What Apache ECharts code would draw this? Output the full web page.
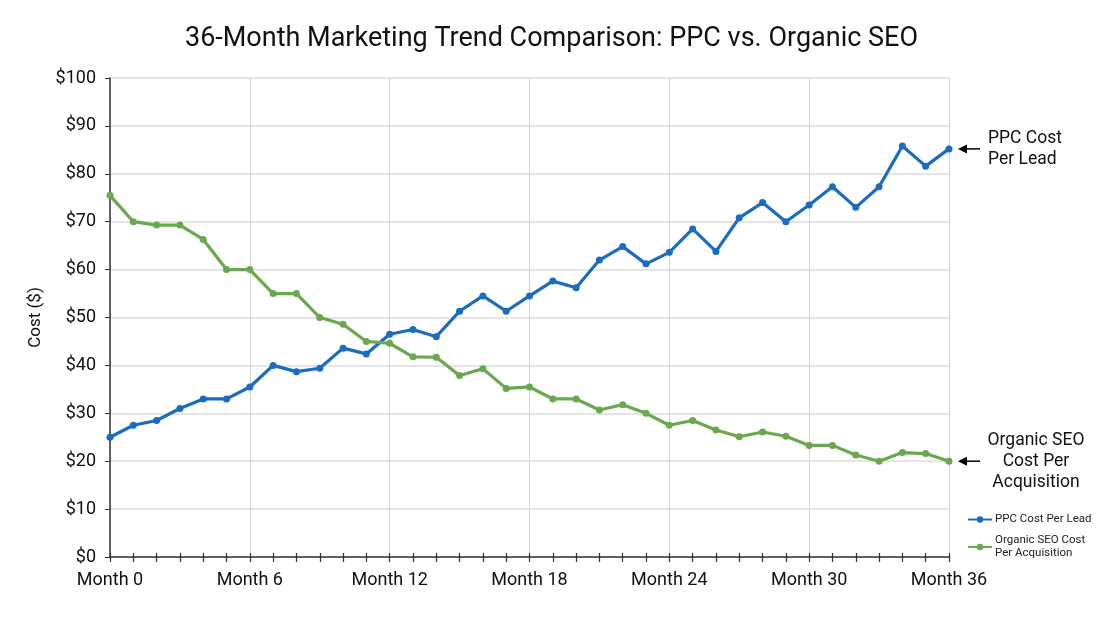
<!DOCTYPE html>
<html>
<head>
<meta charset="utf-8">
<script src="https://cdn.jsdelivr.net/npm/echarts@6/dist/echarts.min.js"></script>
<style>
  html, body { margin: 0; padding: 0; background: #fff; }
  #chart { width: 1103px; height: 620px; }
</style>
</head>
<body>
<div id="chart"></div>
<script>
const months = [];
for (let i = 0; i <= 36; i++) months.push('Month ' + i);

const ppcCost = [25, 27.5, 28.5, 31, 33, 33, 35.5, 40, 38.7, 39.4, 43.6, 42.4, 46.5, 47.5, 46,
  51.3, 54.5, 51.3, 54.5, 57.6, 56.2, 62, 64.8, 61.2, 63.6, 68.5, 63.8, 70.8, 74, 70,
  73.5, 77.3, 73, 77.3, 85.8, 81.6, 85.2];
const seoCost = [75.5, 70, 69.3, 69.3, 66.3, 60, 60, 55, 55, 50, 48.6, 45, 44.6, 41.8, 41.7,
  37.9, 39.3, 35.2, 35.5, 33, 33, 30.7, 31.8, 30, 27.5, 28.5, 26.5, 25.1, 26.1, 25.2,
  23.3, 23.3, 21.3, 20, 21.8, 21.6, 20];

const font = 'Roboto, "Noto Sans", sans-serif';
const blue = '#1a6cc0';
const green = '#6aa84f';
const ink = '#111';

const chart = echarts.init(document.getElementById('chart'));
chart.setOption({
  animation: false,
  textStyle: { fontFamily: font },
  title: {
    text: '36-Month Marketing Trend Comparison: PPC vs. Organic SEO',
    left: 'center', top: 21,
    textStyle: { fontFamily: font, fontSize: 27, fontWeight: 'normal', color: ink }
  },
  grid: { left: 110, right: 154, top: 78, bottom: 63 },
  legend: {
    orient: 'vertical', left: 962, top: 508, itemGap: 8,
    itemWidth: 24, itemHeight: 8,
    textStyle: { fontSize: 11.5, color: '#222', fontFamily: font, lineHeight: 13, padding: [0, 0, 0, -2] },
    formatter: n => n === 'Organic SEO Cost Per Acquisition' ? 'Organic SEO Cost\nPer Acquisition' : n
  },
  xAxis: [{
    type: 'category', data: months, boundaryGap: false,
    axisLine: { lineStyle: { color: '#333', width: 1.5 } },
    axisTick: { interval: 0, length: 5, lineStyle: { color: '#333', width: 1.2 } },
    axisLabel: { interval: 5, fontSize: 18, color: ink, margin: 14 },
    splitLine: { show: true, interval: 5, lineStyle: { color: '#d4d4d4' } }
  }, {
    // same categories again, only to draw the inner half of each tick
    type: 'category', data: months, boundaryGap: false, position: 'bottom',
    axisLine: { show: false },
    axisTick: { interval: 0, inside: true, length: 4, lineStyle: { color: '#333', width: 1.2 } },
    axisLabel: { show: false }, splitLine: { show: false }
  }],
  yAxis: {
    type: 'value', min: 0, max: 100, interval: 10,
    name: 'Cost ($)', nameLocation: 'middle', nameGap: 66, nameRotate: 90,
    nameTextStyle: { fontSize: 17, color: ink },
    axisLine: { show: true, lineStyle: { color: '#333', width: 1.5 } },
    axisTick: { show: true, length: 5, lineStyle: { color: '#333' } },
    axisLabel: { fontSize: 18, color: ink, formatter: '${value}', margin: 14 },
    splitLine: { lineStyle: { color: '#dcdcdc', width: 1.5 } }
  },
  series: [
    { name: 'PPC Cost Per Lead', type: 'line', data: ppcCost, color: blue,
      symbol: 'circle', symbolSize: 7, lineStyle: { width: 3.2 } },
    { name: 'Organic SEO Cost Per Acquisition', type: 'line', data: seoCost, color: green,
      symbol: 'circle', symbolSize: 7, lineStyle: { width: 3.2 } }
  ]
});

// end annotations placed from the chart's own scales
function arrowNote(val, lines, align, textX) {
  const p = chart.convertToPixel({ xAxisIndex: 0, yAxisIndex: 0 }, ['Month 36', val]);
  const x0 = p[0] + 9, x1 = p[0] + 31, y = p[1];
  return [
    { type: 'line', shape: { x1: x0 + 6, y1: y, x2: x1, y2: y }, style: { stroke: '#000', lineWidth: 1.5 } },
    { type: 'polygon', shape: { points: [[x0, y], [x0 + 9, y - 4.5], [x0 + 9, y + 4.5]] }, style: { fill: '#000' } },
    { type: 'text', x: textX, y: y, style: { text: lines, fontSize: 17.5, fontFamily: font, fill: ink,
      align: align, verticalAlign: 'middle', lineHeight: 21 } }
  ];
}
chart.setOption({
  graphic: [].concat(
    arrowNote(ppcCost[36], 'PPC Cost\nPer Lead', 'left', 988),
    arrowNote(seoCost[36], 'Organic SEO\nCost Per\nAcquisition', 'center', 1036)
  )
});
</script>
</body>
</html>
